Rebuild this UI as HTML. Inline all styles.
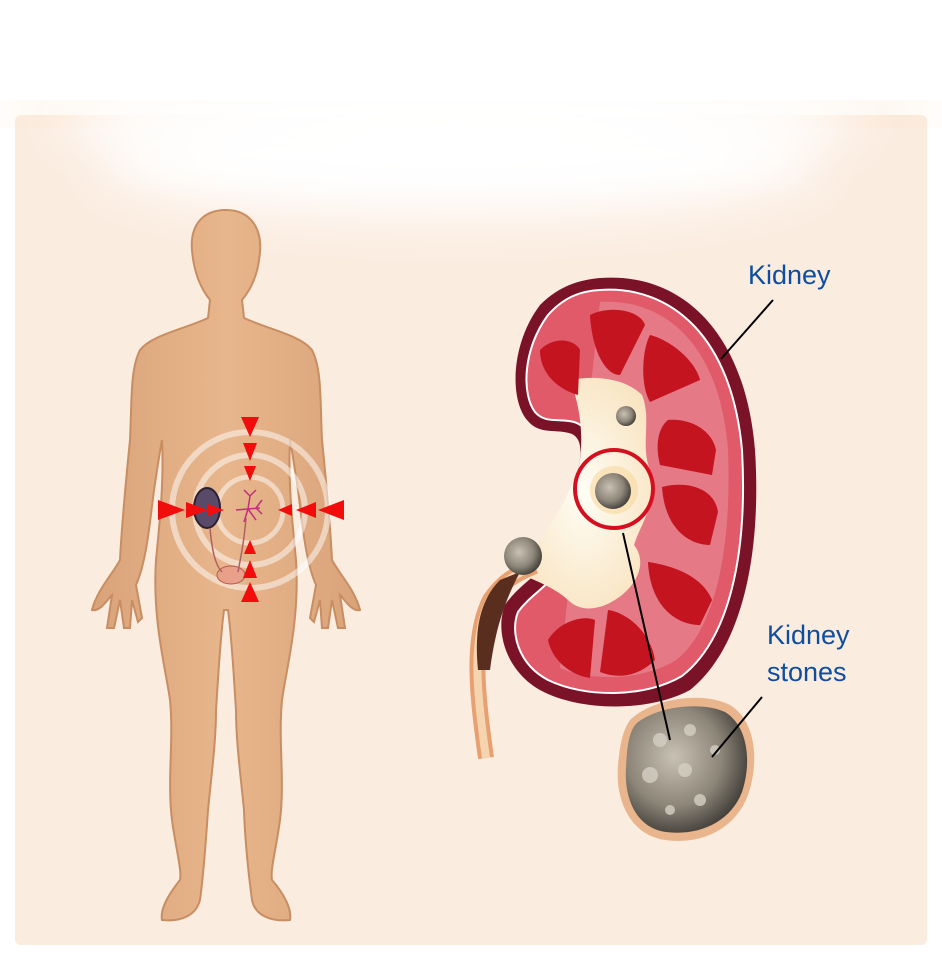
<!DOCTYPE html>
<html><head><meta charset="utf-8"><style>
html,body{margin:0;padding:0;background:#fff;}
svg{display:block;font-family:"Liberation Sans",sans-serif;}
</style></head><body>
<svg width="942" height="960" viewBox="0 0 942 960" xmlns="http://www.w3.org/2000/svg">
<defs>
<filter id="blur" x="-50%" y="-50%" width="200%" height="200%"><feGaussianBlur stdDeviation="25"/></filter>
<radialGradient id="stoneG" cx="40%" cy="40%" r="65%"><stop offset="0" stop-color="#c9c2b4"/><stop offset="0.6" stop-color="#8c8578"/><stop offset="1" stop-color="#3d3a35"/></radialGradient>
<radialGradient id="sinus" cx="50%" cy="50%" r="60%"><stop offset="0" stop-color="#fffdf5"/><stop offset="1" stop-color="#f8e3bf"/></radialGradient>
<linearGradient id="skin" x1="0" y1="0" x2="1" y2="0"><stop offset="0" stop-color="#d9a37a"/><stop offset="0.5" stop-color="#e8b68c"/><stop offset="1" stop-color="#d9a37a"/></linearGradient>
</defs>
<rect x="0" y="0" width="942" height="960" fill="#fff"/>
<rect x="15" y="115" width="912" height="830" rx="6" fill="#fbece0"/>
<rect x="15" y="104" width="912" height="16" fill="#fbe3c8" filter="url(#blur)"/>
<ellipse cx="460" cy="160" rx="360" ry="55" fill="#fff" filter="url(#blur)"/>
<ellipse cx="460" cy="120" rx="400" ry="45" fill="#fff" filter="url(#blur)"/>
<rect x="0" y="0" width="942" height="100" fill="#fff"/>

<!-- Human body -->
<g fill="url(#skin)" stroke="#c98d62" stroke-width="2">
<path d="M226 210 C250 210 262 228 260 252 C258 277 250 290 242 300 L244 318 C270 330 300 335 312 350 C322 370 320 400 322 440 C326 480 330 520 332 560 C340 575 355 590 360 610 C352 612 345 600 340 595 L345 628 L338 628 L332 600 L328 628 L322 628 L320 600 L314 622 L310 618 L316 585 C305 560 302 520 298 490 C295 470 292 450 290 440 C288 480 292 520 296 560 C300 620 286 670 282 700 C278 740 285 780 280 820 C276 850 270 870 272 880 C285 895 292 910 290 920 C270 922 255 915 252 900 C248 870 245 840 244 810 C240 770 236 740 236 710 C234 680 232 640 228 610 L224 610 C220 640 218 680 216 710 C216 740 212 770 208 810 C206 840 204 870 200 900 C196 915 182 922 162 920 C160 910 168 895 180 880 C182 870 176 850 172 820 C167 780 174 740 170 700 C166 670 152 620 156 560 C160 520 164 480 162 440 C160 450 157 470 154 490 C150 520 147 560 136 585 L142 618 L138 622 L132 600 L130 628 L124 628 L120 600 L114 628 L107 628 L112 595 C107 600 100 612 92 610 C97 590 112 575 120 560 C122 520 126 480 130 440 C132 400 130 370 140 350 C152 335 182 330 208 318 L210 300 C202 290 194 275 192 250 C190 226 202 210 226 210 Z"/>
</g>
<g fill="none" stroke="#fff" opacity="0.5">
<circle cx="250" cy="510" r="78" stroke-width="6"/>
<circle cx="250" cy="510" r="55" stroke-width="6"/>
<circle cx="250" cy="510" r="33" stroke-width="5"/>
</g>
<ellipse cx="207" cy="508" rx="13" ry="20" fill="#5a4a6a" stroke="#2a2030" stroke-width="2"/>
<ellipse cx="231" cy="575" rx="14" ry="9" fill="#e8a08a" stroke="#b55a4a"/>
<path d="M210 528 C212 550 215 565 222 572 M246 518 C244 545 240 560 238 572" stroke="#b06060" stroke-width="1.5" fill="none"/>
<g stroke="#c0307a" stroke-width="1.5" fill="none"><path d="M236 510 L260 508 M248 509 L250 496 M250 496 L244 490 M250 496 L256 490 M248 509 L256 520 M248 509 L244 522 M256 508 L262 500 M256 508 L262 514"/></g>
<g fill="#f20d0d">
<polygon points="241,417 259,417 250,437"/>
<polygon points="243,443 257,443 250,461"/>
<polygon points="244,466 256,466 250,481"/>
<polygon points="241,602 259,602 250,582"/>
<polygon points="243,578 257,578 250,560"/>
<polygon points="244,554 256,554 250,540"/>
<polygon points="158,500 158,520 185,510"/>
<polygon points="186,502 186,518 208,510"/>
<polygon points="208,504 208,516 224,510"/>
<polygon points="344,500 344,520 318,510"/>
<polygon points="316,502 316,518 296,510"/>
<polygon points="292,504 292,516 278,510"/>
</g>

<!-- Kidney -->
<path d="M600 278 C680 272 745 330 755 450 C762 560 740 650 690 690 C650 712 580 712 540 690 C505 670 495 630 505 605 C515 590 530 580 540 570 C555 545 570 500 578 470 C583 448 580 438 572 434 C556 428 540 436 527 420 C510 400 510 345 540 305 C560 285 580 280 600 278 Z" fill="#7a1228"/>
<path d="M600 290 C672 285 732 338 742 450 C748 558 728 640 682 676 C645 698 585 698 548 680 C518 664 510 632 518 612 C528 598 542 590 552 578 C568 550 582 505 590 470 C595 442 588 426 574 422 C560 418 545 424 535 412 C522 395 522 350 548 315 C565 296 582 291 600 290 Z" fill="#e05a6a" stroke="#fff" stroke-width="2"/>
<path d="M600 302 C665 298 720 345 728 450 C732 550 715 630 676 660 C645 680 592 682 560 668" fill="#e57a86"/>
<!-- sinus -->
<path d="M570 380 C595 375 625 378 642 395 C652 420 640 445 650 470 C660 500 642 520 634 545 C646 560 640 580 622 595 C600 612 580 612 568 600 C555 588 535 580 515 572 C540 545 565 505 578 470 C585 440 580 405 570 380 Z" fill="url(#sinus)"/>
<g fill="#c4141f">
<path d="M590 315 C610 305 640 310 645 325 L620 375 C605 375 592 350 590 315 Z"/>
<path d="M540 350 C555 335 575 340 580 350 L578 395 C560 390 540 375 540 350 Z"/>
<path d="M650 335 C670 340 695 360 700 380 L650 402 C640 385 642 350 650 335 Z"/>
<path d="M668 420 C690 418 712 430 716 450 L712 475 L660 465 C655 445 658 428 668 420 Z"/>
<path d="M662 487 C690 480 715 490 718 512 L710 545 C690 545 665 530 662 487 Z"/>
<path d="M648 562 C670 565 702 575 712 600 L700 625 C675 625 650 605 648 562 Z"/>
<path d="M608 610 C625 612 650 630 655 660 C640 675 620 680 600 672 Z"/>
<path d="M548 640 C560 620 585 615 595 620 L590 678 C570 675 552 660 548 640 Z"/>
</g>
<!-- ureter -->
<path d="M486 758 C478 700 470 640 490 600 C502 582 515 574 535 566" stroke="#e8a070" stroke-width="16" fill="none"/>
<path d="M486 758 C478 700 470 640 490 600 C502 582 515 574 535 566" stroke="#f5d4b0" stroke-width="8" fill="none"/>
<path d="M478 670 C474 630 480 600 500 580 L520 572 C505 600 495 630 490 670 Z" fill="#5a2e1e"/>
<!-- stones in kidney -->
<circle cx="626" cy="416" r="10" fill="url(#stoneG)"/>
<circle cx="523" cy="556" r="19" fill="url(#stoneG)"/>
<circle cx="614" cy="490" r="24" fill="#f8d9a0" opacity="0.6"/>
<circle cx="613" cy="491" r="18" fill="url(#stoneG)"/>
<circle cx="614" cy="489" r="39" fill="none" stroke="#d41020" stroke-width="4"/>
<!-- big stone -->
<path d="M630 720 C650 700 700 690 730 705 C755 720 760 760 748 795 C735 830 700 845 665 840 C630 835 615 800 618 765 C620 745 622 732 630 720 Z" fill="#e5a878" opacity="0.8"/>
<path d="M635 725 C652 708 698 700 725 712 C748 726 752 762 742 792 C730 823 698 836 666 832 C636 828 624 798 626 768 C627 750 628 735 635 725 Z" fill="url(#stoneG)"/>
<g fill="#d5d0c4" opacity="0.8"><circle cx="660" cy="740" r="7"/><circle cx="690" cy="730" r="6"/><circle cx="650" cy="775" r="8"/><circle cx="685" cy="770" r="7"/><circle cx="715" cy="750" r="5"/><circle cx="700" cy="800" r="6"/><circle cx="670" cy="810" r="5"/></g>
<line x1="721" y1="359" x2="773" y2="300" stroke="#000" stroke-width="2"/>
<line x1="623" y1="533" x2="670" y2="740" stroke="#000" stroke-width="2"/>
<line x1="712" y1="757" x2="762" y2="697" stroke="#000" stroke-width="2"/>
<g fill="#0d4ea0" font-size="27">
<text x="748" y="284">Kidney</text>
<text x="767" y="644">Kidney</text>
<text x="767" y="681">stones</text>
</g>
</svg>
</body></html>
